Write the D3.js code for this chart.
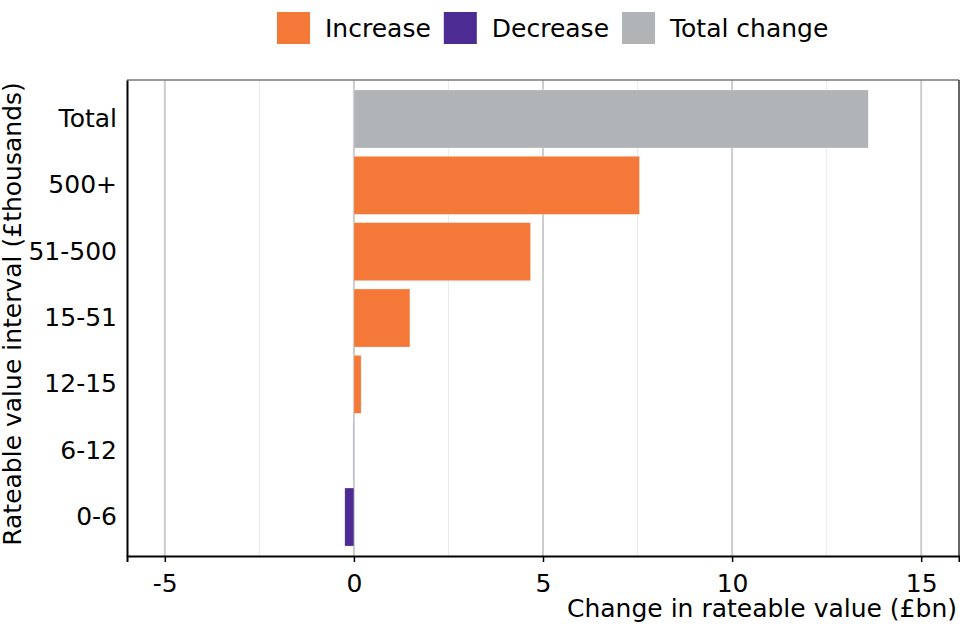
<!DOCTYPE html>
<html>
<head>
<meta charset="utf-8">
<script src="https://cdn.jsdelivr.net/npm/d3@7"></script>
<style>
  body { margin: 0; background: #fff; }
  text { font-family: "DejaVu Sans", sans-serif; }
</style>
</head>
<body>
<div id="chart"></div>
<script>
const categories = ['Total', '500+', '51-500', '15-51', '12-15', '6-12', '0-6'];
const values = [13.6, 7.55, 4.67, 1.48, 0.19, -0.01, -0.24];
const kinds = ['Total change', 'Increase', 'Increase', 'Increase', 'Increase', 'Decrease', 'Decrease'];
const legendLabels = ['Increase', 'Decrease', 'Total change'];
const legendColors = ['#f47938', '#4c2c92', '#b1b4b6'];
const xTicks = [-5, 0, 5, 10, 15];
const xMinor = [-2.5, 2.5, 7.5, 12.5];

const width = 960;
const height = 640;
const margin = { top: 80, right: 1, bottom: 84, left: 127 };
const fontSize = 25;

const color = d3.scaleOrdinal().domain(legendLabels).range(legendColors);

const svg = d3.select('#chart')
  .append('svg')
  .attr('width', width)
  .attr('height', height);

const x = d3.scaleLinear()
  .domain([-6, 16])
  .range([margin.left, width - margin.right]);

const y = d3.scaleBand()
  .domain(categories)
  .range([margin.top, height - margin.bottom])
  .paddingInner(0.125)
  .paddingOuter(0.15);

// grid
svg.append('g')
  .selectAll('line')
  .data(xMinor)
  .join('line')
    .attr('x1', d => x(d)).attr('x2', d => x(d))
    .attr('y1', margin.top).attr('y2', height - margin.bottom)
    .attr('stroke', '#ebebeb')
    .attr('stroke-width', 1);

svg.append('g')
  .selectAll('line')
  .data(xTicks)
  .join('line')
    .attr('x1', d => x(d)).attr('x2', d => x(d))
    .attr('y1', margin.top).attr('y2', height - margin.bottom)
    .attr('stroke', '#cccccc')
    .attr('stroke-width', 2);

// panel border top/right
svg.append('line')
  .attr('x1', margin.left).attr('x2', width - margin.right)
  .attr('y1', margin.top).attr('y2', margin.top)
  .attr('stroke', '#777').attr('stroke-width', 1.5);
svg.append('line')
  .attr('x1', width - margin.right).attr('x2', width - margin.right)
  .attr('y1', margin.top).attr('y2', height - margin.bottom)
  .attr('stroke', '#333').attr('stroke-width', 1.5);

// bars
svg.append('g')
  .selectAll('rect')
  .data(categories)
  .join('rect')
    .attr('x', (d, i) => x(Math.min(0, values[i])))
    .attr('y', d => y(d))
    .attr('width', (d, i) => Math.abs(x(values[i]) - x(0)))
    .attr('height', y.bandwidth())
    .attr('fill', (d, i) => color(kinds[i]))
    .attr('stroke', '#fff')
    .attr('stroke-opacity', 0.5)
    .attr('stroke-width', 0.5);

// axes
const xAxis = svg.append('g')
  .attr('transform', `translate(0,${height - margin.bottom})`)
  .call(d3.axisBottom(x).tickValues(xTicks).tickSize(6).tickPadding(12).tickFormat(d => String(d)));
xAxis.select('.domain').attr('stroke', '#000').attr('stroke-width', 2);
xAxis.selectAll('.tick line').attr('stroke', '#000').attr('stroke-width', 1.5);
xAxis.selectAll('text').attr('font-size', fontSize).attr('fill', '#000')
  .attr('font-family', '"DejaVu Sans", sans-serif');

const yAxis = svg.append('g')
  .attr('transform', `translate(${margin.left},0)`)
  .call(d3.axisLeft(y).tickSize(0).tickPadding(10));
yAxis.select('.domain').attr('stroke', '#000').attr('stroke-width', 2);
yAxis.selectAll('text').attr('font-size', fontSize).attr('fill', '#000')
  .attr('font-family', '"DejaVu Sans", sans-serif');

// axis titles
svg.append('text')
  .attr('x', width - 3)
  .attr('y', 617)
  .attr('text-anchor', 'end')
  .attr('font-size', fontSize)
  .text('Change in rateable value (£bn)');

svg.append('text')
  .attr('transform', `translate(21,314) rotate(-90)`)
  .attr('text-anchor', 'middle')
  .attr('font-size', fontSize)
  .text('Rateable value interval (£thousands)');

// legend, laid out left to right from measured text widths
const legend = svg.append('g').attr('transform', 'translate(277,12)');
let lx = 0;
legendLabels.forEach(label => {
  legend.append('rect')
    .attr('x', lx).attr('y', 0)
    .attr('width', 33).attr('height', 32)
    .attr('fill', color(label));
  const t = legend.append('text')
    .attr('x', lx + 48).attr('y', 25)
    .attr('font-size', fontSize)
    .text(label);
  lx += 48 + t.node().getComputedTextLength() + 13;
});
</script>
</body>
</html>
